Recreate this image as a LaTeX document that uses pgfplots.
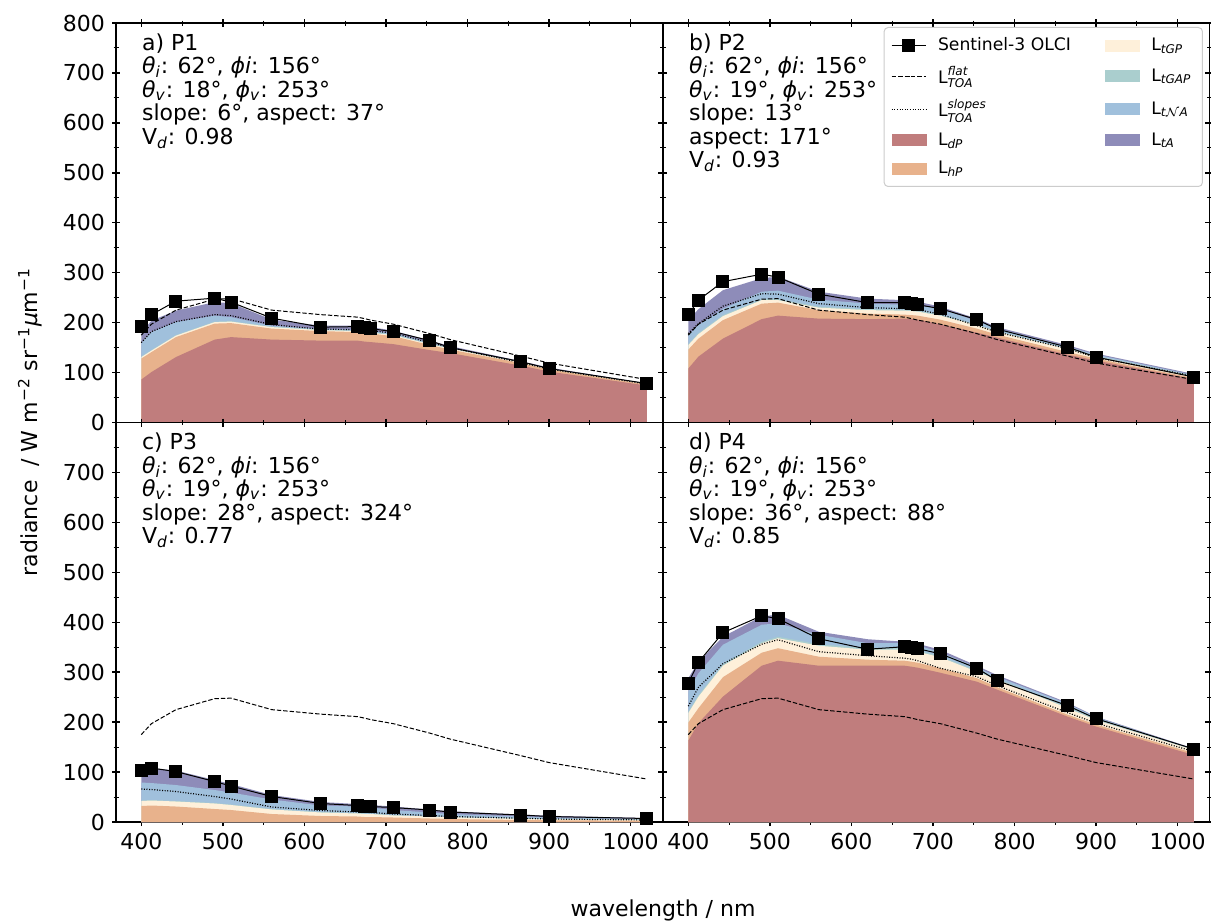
\documentclass[border=0pt]{standalone}
\usepackage{fontspec}
\setmainfont{DejaVu Sans}
\usepackage{amsmath}
\usepackage{pgfplots}
\usepackage{pgfplotstable}
\pgfplotsset{compat=1.18}

\definecolor{cdP}{HTML}{C07D7D}
\definecolor{chP}{HTML}{E8B28C}
\definecolor{ctGP}{HTML}{FEF0DA}
\definecolor{ctGAP}{HTML}{AACECE}
\definecolor{ctNA}{HTML}{A0C0DC}
\definecolor{ctA}{HTML}{8E8CB9}

\pgfplotstableread{
wl dP hP tGP tGAP tNA tA obs slopes flat
400 86 128 131 132 159 180 192 160 175
412.5 101 141 144 145 181 204 216 182 197
442.5 131 171 174 175 201 224 243 202 225
490 166 198 201 202 214 241 249 216 247
510 171 199 202 203 211 239 241 214 248
560 166 188 191 192 194 206 209 196 225
620 164 183 185 186 187 194 191 187 216
665 164 181 183 184 186 194 192 186 211
673.75 162 179 181 182 184 192 190 185 208
681.25 161 178 180 181 183 191 188 184 205
708.75 157 173 175 176 179 184 182 179 197
753.75 145 155 157 158 160 164 164 160 178
778.75 139 146 148 149 150 153 150 150 166
865 114 119 120 121 121 123 122 120 133
900 102 106 107 108 108 110 108 107 119
1020 74 76 77 77 77 78 78 77 86
}\tabA

\pgfplotstableread{
wl dP hP tGP tGAP tNA tA obs slopes flat
400 108 146 155 157 175 205 216 178 175
412.5 132 168 177 179 195 227 245 198 197
442.5 168 205 213 215 228 265 282 233 225
490 207 238 245 247 262 289 297 258 247
510 214 240 245 247 264 292 291 257 248
560 208 225 230 232 246 262 257 238 225
620 207 218 225 227 238 248 240 230 216
665 208 216 224 226 236 245 240 228 211
673.75 207 215 223 225 235 243 238 227 208
681.25 206 214 222 224 234 242 236 226 205
708.75 197 206 214 216 228 232 228 217 197
753.75 180 188 195 196 203 208 206 194 178
778.75 170 176 182 183 188 191 187 181 166
865 136 141 147 148 152 155 151 148 133
900 124 128 132 133 136 138 131 130 119
1020 87 89 92 93 95 97 91 93 86
}\tabB

\pgfplotstableread{
wl dP hP tGP tGAP tNA tA obs slopes flat
400 0 32 42 43 79 105 103 66 175
412.5 0 33 43 44 78 108 108 65 197
442.5 0 31 41 42 74 103 101 61 225
490 0 26 37 38 64 84 81 51 247
510 0 24 34 35 59 76 72 46 248
560 0 16 25 26 45 54 51 30 225
620 0 12 19 20 33 40 37 23 216
665 0 11 17 18 31 36 33 20 211
673.75 0 10 16 17 30 35 32 19.5 208
681.25 0 10 16 17 29 34 31 19 205
708.75 0 9 13 14 24 31 29 16 197
753.75 0 7 11 11.5 19 25 24 13 178
778.75 0 6 9.5 10 16 21.5 20 11 166
865 0 4 6.5 7 11 15 14 7.5 133
900 0 3.5 5.5 6 9 12.5 11 6 119
1020 0 2.5 4 4.5 6 8 7 4 86
}\tabC

\pgfplotstableread{
wl dP hP tGP tGAP tNA tA obs slopes flat
400 163 199 218 221 261 288 278 232 175
412.5 198 228 251 254 298 321 320 270 197
442.5 251 290 313 316 355 371 379 317 225
490 313 339 358 361 395 412 413 356 247
510 323 348 368 371 398 415 407 365 248
560 313 331 353 356 375 381 367 341 225
620 313 325 345 348 358 366 346 333 216
665 313 323 345 348 358 361 351 328 211
673.75 311 321 343 346 356 359 349 326 208
681.25 309 319 341 344 354 357 347 323 205
708.75 299 308 330 332 340 345 337 308 197
753.75 281 288 301 303 310 313 308 291 178
778.75 265 270 285 287 291 294 283 273 166
865 211 215 228 230 237 239 233 219 133
900 191 195 204 206 210 211 207 198 119
1020 134 138 144 145 146 147 146 141 86
}\tabD

\pgfplotsset{
  myax/.style={
    scale only axis, width=273.25pt, height=199.75pt,
    xmin=369, xmax=1039, ymin=0, ymax=800,
    xtick={400,500,...,1000}, minor xtick={450,550,...,950},
    ytick={0,100,...,800}, minor ytick={50,150,...,750},
    tick align=center, xtick pos=both, ytick pos=both,
    major tick length=4pt, minor tick length=2.5pt,
    every major tick/.append style={line width=0.7pt, black},
    every minor tick/.append style={line width=0.5pt, black},
    axis line style={line width=0.75pt},
    ticklabel style={font=\fontsize{11}{13}\selectfont},
    /pgf/number format/assume math mode=true,
    /pgf/number format/1000 sep={},
    clip=false,
  },
  swatch/.style={legend image code/.code={%
    \fill[##1, draw=none, sharp corners] (0cm,-0.105cm) rectangle (0.62cm,0.105cm);}},
}

\newcommand{\drawpanel}[1]{%
  \addplot[fill=ctA, draw=none, forget plot] table[x=wl,y=tA]{#1} \closedcycle;
  \addplot[fill=ctNA, draw=none, forget plot] table[x=wl,y=tNA]{#1} \closedcycle;
  \addplot[fill=ctGAP, draw=none, forget plot] table[x=wl,y=tGAP]{#1} \closedcycle;
  \addplot[fill=ctGP, draw=none, forget plot] table[x=wl,y=tGP]{#1} \closedcycle;
  \addplot[fill=chP, draw=none, forget plot] table[x=wl,y=hP]{#1} \closedcycle;
  \addplot[fill=cdP, draw=none, forget plot] table[x=wl,y=dP]{#1} \closedcycle;
  \addplot[black, line width=0.5pt, dash pattern=on 2.2pt off 1pt, forget plot] table[x=wl,y=flat]{#1};
  \addplot[black, line width=0.6pt, dash pattern=on 0.5pt off 0.8pt, forget plot] table[x=wl,y=slopes]{#1};
  \addplot[black, line width=0.5pt, mark=square*, mark size=3pt, mark options={solid}, forget plot] table[x=wl,y=obs]{#1};
}

\newcommand{\ann}[1]{\node[anchor=north west, align=left, inner sep=0pt,
  font=\fontsize{11}{11.75}\selectfont] at (rel axis cs:0.047,0.975) {#1};}
\newcommand{\thi}{\textit{θ}\textsubscript{\textit{i}}}
\newcommand{\thv}{\textit{θ}\textsubscript{\textit{v}}}
\newcommand{\phii}{\textit{ϕi}}
\newcommand{\phiv}{\textit{ϕ}\textsubscript{\textit{v}}}
\newcommand{\Vd}{V\textsubscript{\textit{d}}}

\begin{document}
\begin{tikzpicture}
\path[use as bounding box] (0,0) rectangle (605.5pt,461pt);

% a
\begin{axis}[myax, at={(58pt,249.75pt)}, anchor=south west, xticklabels={}]
\drawpanel{\tabA}
\ann{a) P1\\ \thi: 62°, \phii: 156°\\ \thv: 18°, \phiv: 253°\\ slope: 6°, aspect: 37°\\ \Vd: 0.98}
\end{axis}

% b
\begin{axis}[myax, at={(331.5pt,249.75pt)}, anchor=south west, xticklabels={}, yticklabels={},
  legend columns=2,
  legend style={at={(0.988,0.99)}, anchor=north east, draw=black!20, line width=0.5pt,
    rounded corners=2pt, font=\fontsize{8.6}{10}\selectfont, row sep=2.4pt,
    inner xsep=3.5pt, inner ysep=3pt,
    /tikz/every odd column/.append style={column sep=3.5pt},
    /tikz/every even column/.append style={column sep=15pt}},
  legend cell align=left]
\drawpanel{\tabB}
\ann{b) P2\\ \thi: 62°, \phii: 156°\\ \thv: 19°, \phiv: 253°\\ slope: 13°\\ aspect: 171°\\ \Vd: 0.93}
\addlegendimage{black, line width=0.5pt, mark=square*, mark size=3pt, sharp corners}
\addlegendentry{Sentinel-3 OLCI}
\addlegendimage{swatch, fill=ctGP}
\addlegendentry{L\textsubscript{\textit{tGP}}}
\addlegendimage{black, line width=0.5pt, dash pattern=on 2.2pt off 1pt, sharp corners}
\addlegendentry{L$^{\textit{flat}}_{\textit{TOA}}$}
\addlegendimage{swatch, fill=ctGAP}
\addlegendentry{L\textsubscript{\textit{tGAP}}}
\addlegendimage{black, line width=0.6pt, dash pattern=on 0.5pt off 0.8pt, sharp corners}
\addlegendentry{L$^{\textit{slopes}}_{\textit{TOA}}$}
\addlegendimage{swatch, fill=ctNA}
\addlegendentry{L$_{\textit{t}\mathcal{N}\textit{A}}$}
\addlegendimage{swatch, fill=cdP}
\addlegendentry{L\textsubscript{\textit{dP}}}
\addlegendimage{swatch, fill=ctA}
\addlegendentry{L\textsubscript{\textit{tA}}}
\addlegendimage{swatch, fill=chP}
\addlegendentry{L\textsubscript{\textit{hP}}}
\end{axis}

% c
\begin{axis}[myax, at={(58pt,50pt)}, anchor=south west, ytick={0,100,...,700}, extra y ticks={800}, extra y tick labels={}]
\drawpanel{\tabC}
\ann{c) P3\\ \thi: 62°, \phii: 156°\\ \thv: 19°, \phiv: 253°\\ slope: 28°, aspect: 324°\\ \Vd: 0.77}
\end{axis}

% d
\begin{axis}[myax, at={(331.5pt,50pt)}, anchor=south west, yticklabels={}]
\drawpanel{\tabD}
\ann{d) P4\\ \thi: 62°, \phii: 156°\\ \thv: 19°, \phiv: 253°\\ slope: 36°, aspect: 88°\\ \Vd: 0.85}
\end{axis}

\node[font=\fontsize{11}{13}\selectfont] at (331.5pt,6pt) {wavelength / nm};
\node[font=\fontsize{11}{13}\selectfont, rotate=90] at (15pt,250pt)
  {radiance \ / W m\textsuperscript{−2} sr\textsuperscript{−1}\textit{μ}m\textsuperscript{−1}};
\end{tikzpicture}
\end{document}
